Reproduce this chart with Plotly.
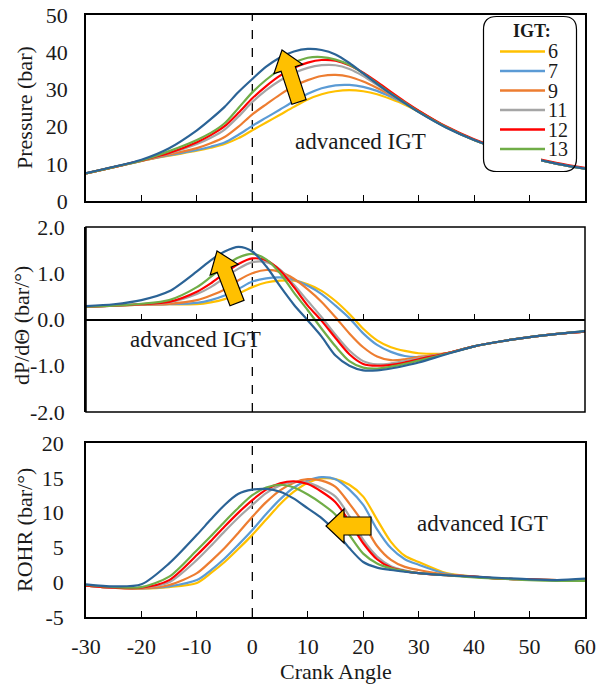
import math
import plotly.graph_objects as go

# ---------------- data ----------------
crank_angle = [-30, -25, -20, -15, -10, -7.5, -5, -2.5, 0, 2.5, 5, 7.5, 10, 12.5, 15,
               17.5, 20, 22.5, 25, 27.5, 30, 35, 40, 45, 50, 55, 60]

igt_labels = ["6", "7", "9", "11", "12", "13", "15"]
igt_colors = ["#FFC000", "#5B9BD5", "#ED7D31", "#A5A5A5", "#FF0000", "#70AD47", "#2B6396"]
legend_labels = ["6", "7", "9", "11", "12", "13"]

# Pressure (bar)
p_6 = [7.4, 9.1, 10.8, 12.2, 13.5, 14.3, 15.3, 16.9, 19.0, 21.1, 23.2, 25.3, 27.3, 28.7, 29.5,
       29.8, 29.5, 28.7, 27.4, 25.9, 24.0, 19.8, 16.4, 13.8, 11.7, 10.0, 8.7]
p_7 = [7.4, 9.1, 10.8, 12.3, 13.7, 14.6, 15.7, 17.8, 20.2, 22.4, 24.6, 26.8, 28.8, 30.3, 31.1,
       31.2, 30.7, 29.6, 28.0, 26.2, 24.2, 19.8, 16.4, 13.8, 11.7, 10.0, 8.7]
p_9 = [7.4, 9.1, 10.8, 12.5, 14.2, 15.5, 17.2, 20.0, 23.3, 26.0, 28.6, 30.9, 32.5, 33.6, 33.9,
       33.4, 32.1, 30.4, 28.5, 26.4, 24.2, 19.8, 16.4, 13.8, 11.7, 10.0, 8.7]
p_11 = [7.4, 9.1, 10.9, 12.8, 15.3, 17.0, 19.2, 22.7, 26.6, 29.8, 32.4, 34.4, 35.8, 36.5, 36.5,
        35.5, 33.6, 31.2, 28.7, 26.3, 24.0, 19.8, 16.4, 13.8, 11.7, 10.0, 8.7]
p_12 = [7.4, 9.1, 10.9, 12.9, 15.8, 17.7, 20.1, 23.7, 27.6, 30.9, 33.7, 35.8, 37.2, 37.9, 37.7,
        36.5, 34.5, 32.0, 29.3, 26.7, 24.3, 20.0, 16.6, 14.0, 11.9, 10.2, 8.9]
p_13 = [7.4, 9.1, 10.9, 13.4, 16.4, 18.3, 20.9, 25.0, 29.2, 32.6, 35.3, 37.2, 38.5, 38.7, 38.0,
        36.6, 34.3, 31.6, 28.9, 26.4, 24.0, 19.8, 16.4, 13.8, 11.7, 10.0, 8.7]
p_15 = [7.5, 9.2, 11.1, 14.2, 19.0, 22.0, 25.3, 29.3, 32.8, 36.1, 38.6, 40.2, 40.9, 40.6, 39.4,
        37.1, 34.3, 31.5, 28.8, 26.3, 23.9, 19.7, 16.4, 13.8, 11.7, 10.0, 8.7]

# dP/dTheta (bar/deg)
dp_6 = [0.28, 0.30, 0.32, 0.33, 0.33, 0.37, 0.44, 0.56, 0.70, 0.80, 0.84, 0.84, 0.76, 0.62, 0.40,
        0.12, -0.20, -0.45, -0.60, -0.68, -0.73, -0.73, -0.58, -0.47, -0.38, -0.31, -0.26]
dp_7 = [0.28, 0.30, 0.32, 0.33, 0.36, 0.42, 0.52, 0.66, 0.82, 0.89, 0.91, 0.86, 0.73, 0.55, 0.30,
        0.03, -0.30, -0.55, -0.70, -0.79, -0.81, -0.73, -0.58, -0.47, -0.38, -0.31, -0.26]
dp_9 = [0.28, 0.30, 0.32, 0.34, 0.42, 0.52, 0.65, 0.85, 1.00, 1.07, 1.03, 0.88, 0.65, 0.38, 0.05,
        -0.30, -0.60, -0.80, -0.88, -0.86, -0.81, -0.73, -0.58, -0.47, -0.38, -0.31, -0.26]
dp_11 = [0.28, 0.30, 0.33, 0.37, 0.55, 0.70, 0.90, 1.10, 1.24, 1.24, 1.08, 0.75, 0.40, 0.05, -0.33,
         -0.67, -0.90, -0.97, -0.95, -0.90, -0.84, -0.73, -0.58, -0.47, -0.38, -0.31, -0.26]
dp_12 = [0.28, 0.30, 0.33, 0.38, 0.60, 0.78, 1.00, 1.20, 1.32, 1.28, 1.06, 0.70, 0.30, -0.03, -0.40,
         -0.75, -0.96, -1.00, -0.98, -0.93, -0.86, -0.73, -0.58, -0.47, -0.38, -0.31, -0.26]
dp_13 = [0.28, 0.30, 0.34, 0.42, 0.70, 0.92, 1.15, 1.34, 1.42, 1.30, 1.00, 0.58, 0.20, -0.20, -0.58,
         -0.90, -1.04, -1.06, -1.02, -0.96, -0.89, -0.74, -0.58, -0.47, -0.38, -0.31, -0.25]
dp_15 = [0.29, 0.33, 0.42, 0.61, 1.04, 1.28, 1.47, 1.57, 1.47, 1.15, 0.72, 0.32, -0.02, -0.37, -0.78,
         -1.00, -1.10, -1.10, -1.06, -1.00, -0.93, -0.75, -0.58, -0.47, -0.38, -0.31, -0.25]

# ROHR (bar/deg)
rohr_6 = [-0.5, -0.8, -0.9, -0.7, -0.1, 1.3, 2.9, 4.8, 6.8, 9.0, 11.2, 13.0, 14.3, 14.9, 14.8,
          14.0, 12.3, 9.0, 5.8, 3.8, 2.9, 1.3, 0.8, 0.5, 0.4, 0.3, 0.2]
rohr_7 = [-0.5, -0.8, -0.9, -0.6, 0.3, 1.7, 3.4, 5.4, 7.5, 9.8, 11.9, 13.6, 14.6, 15.1, 14.8,
          13.3, 11.1, 7.6, 4.9, 3.3, 2.5, 1.2, 0.8, 0.5, 0.4, 0.3, 0.2]
rohr_9 = [-0.5, -0.8, -0.9, -0.4, 1.3, 3.0, 4.9, 7.1, 9.4, 11.5, 13.2, 14.3, 14.8, 14.6, 13.7,
          11.3, 8.5, 5.2, 3.2, 2.2, 1.75, 1.1, 0.8, 0.5, 0.4, 0.3, 0.2]
rohr_11 = [-0.5, -0.8, -0.8, 0.0, 3.2, 5.2, 7.3, 9.3, 11.1, 12.8, 13.9, 14.4, 14.3, 13.5, 12.3,
           9.5, 6.1, 3.7, 2.3, 1.7, 1.3, 1.0, 0.8, 0.5, 0.4, 0.3, 0.2]
rohr_12 = [-0.5, -0.8, -0.8, 0.3, 3.9, 5.9, 8.0, 10.0, 11.8, 13.3, 14.2, 14.5, 14.1, 13.0, 11.5,
           8.7, 5.6, 3.3, 2.1, 1.6, 1.3, 1.0, 0.8, 0.5, 0.4, 0.3, 0.2]
rohr_13 = [-0.4, -0.7, -0.7, 0.8, 4.6, 6.6, 8.7, 10.7, 12.5, 13.6, 14.0, 13.6, 12.6, 11.3, 9.7,
           6.8, 4.1, 2.7, 2.0, 1.6, 1.3, 1.0, 0.7, 0.5, 0.3, 0.2, 0.2]
rohr_15 = [-0.3, -0.6, -0.3, 2.7, 6.8, 9.0, 11.1, 12.7, 13.3, 13.4, 13.0, 12.0, 10.6, 9.2, 7.3,
           4.9, 2.9, 2.1, 1.75, 1.5, 1.3, 1.0, 0.8, 0.6, 0.4, 0.3, 0.5]

pressure = [p_6, p_7, p_9, p_11, p_12, p_13, p_15]
dpdtheta = [dp_6, dp_7, dp_9, dp_11, dp_12, dp_13, dp_15]
rohr = [rohr_6, rohr_7, rohr_9, rohr_11, rohr_12, rohr_13, rohr_15]

x_ticks = [-30, -20, -10, 0, 10, 20, 30, 40, 50, 60]
x_ticktext = ["-30", "-20", "-10", "0", "10", "20", "30", "40", "50", "60"]
p_ticks = [0, 10, 20, 30, 40, 50]
p_ticktext = ["0", "10", "20", "30", "40", "50"]
dp_ticks = [-2, -1, 0, 1, 2]
dp_ticktext = ["-2.0", "-1.0", "0.0", "1.0", "2.0"]
r_ticks = [-5, 0, 5, 10, 15, 20]
r_ticktext = ["-5", "0", "5", "10", "15", "20"]

# ---------------- layout geometry (pixels) ----------------
W, H = 599, 686
ML, MR, MT, MB = 86, 14, 15, 69
PW, PH = W - ML - MR, H - MT - MB


def pxx(px):
    return (px - ML) / PW


def pxy(py):
    return (H - MB - py) / PH


dom_top = [pxy(201), 1.0]
dom_mid = [pxy(412), pxy(227)]
dom_bot = [0.0, pxy(443)]

FONT = "Liberation Serif, Times New Roman, serif"
TXT = "#1a1a1a"
NOTICK = "rgba(0,0,0,0)"
TICK_SIZE = 22

fig = go.Figure()
panels = [("x", "y", pressure), ("x2", "y2", dpdtheta), ("x3", "y3", rohr)]
for xa, ya, series in panels:
    for lab, col, vals in zip(igt_labels, igt_colors, series):
        fig.add_trace(go.Scatter(
            x=crank_angle, y=vals, mode="lines", name=lab, xaxis=xa, yaxis=ya,
            line=dict(color=col, width=2.2, shape="spline", smoothing=0.8),
            showlegend=False, hoverinfo="skip"))

axis_common = dict(showgrid=False, zeroline=False, linecolor="black", linewidth=1.5,
                   automargin=False,
                   tickfont=dict(family=FONT, size=TICK_SIZE, color=TXT), fixedrange=True)

fig.update_layout(
    width=W, height=H, margin=dict(l=ML, r=MR, t=MT, b=MB, autoexpand=False),
    font=dict(family=FONT),
    plot_bgcolor="white", paper_bgcolor="white", showlegend=False,
    xaxis=dict(domain=[0, 1], anchor="y", range=[-30, 60], tickvals=x_ticks,
               showticklabels=False, ticks="inside", ticklen=6, tickcolor="black",
               showline=True, mirror=True, **axis_common),
    yaxis=dict(domain=dom_top, anchor="x", range=[0, 50], tickvals=p_ticks, ticktext=p_ticktext,
               ticks="outside", ticklen=12, tickcolor=NOTICK, showline=True, mirror=True,
               **axis_common),
    xaxis2=dict(domain=[0, 1], anchor="free", position=(dom_mid[0] + dom_mid[1]) / 2,
                range=[-30, 60], tickvals=x_ticks, showticklabels=False, ticks="inside",
                ticklen=5, tickcolor="black", showline=True, **axis_common),
    yaxis2=dict(domain=dom_mid, anchor="x2", range=[-2, 2], tickvals=dp_ticks, ticktext=dp_ticktext,
                ticks="outside", ticklen=15, tickcolor=NOTICK, showline=True, **axis_common),
    xaxis3=dict(domain=[0, 1], anchor="y3", range=[-30, 60], tickvals=x_ticks, ticktext=x_ticktext,
                ticks="inside", ticklen=6, tickcolor="black", showline=True, mirror=True,
                ticklabelstandoff=9, **axis_common),
    yaxis3=dict(domain=dom_bot, anchor="x3", range=[-5, 20], tickvals=r_ticks, ticktext=r_ticktext,
                ticks="outside", ticklen=16, tickcolor=NOTICK, showline=True, mirror=True,
                **axis_common),
)

shapes = []
# frame for the middle panel
shapes.append(dict(type="rect", xref="x2 domain", yref="y2 domain", x0=0, x1=1, y0=0, y1=1,
                   line=dict(color="black", width=1.5), layer="above"))
# dashed TDC lines
for xa, ya in [("x", "y"), ("x2", "y2"), ("x3", "y3")]:
    shapes.append(dict(type="line", xref=xa, yref=ya + " domain", x0=0, x1=0, y0=0, y1=1,
                       line=dict(color="black", width=1.3, dash="dash"), layer="below"))


def block_arrow(tail, tip, shaft_w, head_w, head_len):
    dx, dy = tip[0] - tail[0], tip[1] - tail[1]
    L = math.hypot(dx, dy)
    ux, uy = dx / L, dy / L
    nx, ny = -uy, ux
    bx, by = tip[0] - ux * head_len, tip[1] - uy * head_len
    pts = [
        (tail[0] + nx * shaft_w / 2, tail[1] + ny * shaft_w / 2),
        (bx + nx * shaft_w / 2, by + ny * shaft_w / 2),
        (bx + nx * head_w / 2, by + ny * head_w / 2),
        tip,
        (bx - nx * head_w / 2, by - ny * head_w / 2),
        (bx - nx * shaft_w / 2, by - ny * shaft_w / 2),
        (tail[0] - nx * shaft_w / 2, tail[1] - ny * shaft_w / 2),
    ]
    path = "M " + " L ".join(f"{pxx(p[0]):.5f},{pxy(p[1]):.5f}" for p in pts) + " Z"
    return dict(type="path", xref="paper", yref="paper", path=path, fillcolor="#FFC000",
                line=dict(color="black", width=1.2), layer="above")


shapes.append(block_arrow((299, 102), (282, 50), 15, 30, 20))
shapes.append(block_arrow((237, 303), (217, 251), 15, 30, 20))
shapes.append(block_arrow((371, 526), (326, 526), 18, 34, 18))

# custom legend
shapes.append(dict(type="rect", xref="paper", yref="paper", x0=pxx(484), x1=pxx(541),
                   y0=pxy(171), y1=pxy(17), fillcolor="white", line=dict(width=0), layer="above"))
r = 13
lx0, lx1, ly0, ly1 = 483.5, 576.5, 16.5, 171.5
rounded = (f"M {pxx(lx0 + r)},{pxy(ly0)} L {pxx(lx1 - r)},{pxy(ly0)} "
           f"Q {pxx(lx1)},{pxy(ly0)} {pxx(lx1)},{pxy(ly0 + r)} "
           f"L {pxx(lx1)},{pxy(ly1 - r)} Q {pxx(lx1)},{pxy(ly1)} {pxx(lx1 - r)},{pxy(ly1)} "
           f"L {pxx(lx0 + r)},{pxy(ly1)} Q {pxx(lx0)},{pxy(ly1)} {pxx(lx0)},{pxy(ly1 - r)} "
           f"L {pxx(lx0)},{pxy(ly0 + r)} Q {pxx(lx0)},{pxy(ly0)} {pxx(lx0 + r)},{pxy(ly0)} Z")
shapes.append(dict(type="path", xref="paper", yref="paper", path=rounded,
                   line=dict(color="black", width=1.2), fillcolor="rgba(0,0,0,0)", layer="above"))

annotations = []
annotations.append(dict(xref="paper", yref="paper", x=pxx(532), y=pxy(31), text="<b>IGT:</b>",
                        xanchor="center", yanchor="middle", showarrow=False,
                        font=dict(family=FONT, size=18, color=TXT)))
for i, (lab, col) in enumerate(zip(legend_labels, igt_colors)):
    yy = 51.5 + i * 19.5
    shapes.append(dict(type="line", xref="paper", yref="paper", x0=pxx(500), x1=pxx(545),
                       y0=pxy(yy), y1=pxy(yy), line=dict(color=col, width=2.5), layer="above"))
    annotations.append(dict(xref="paper", yref="paper", x=pxx(546), y=pxy(yy), text=lab,
                            xanchor="left", yanchor="middle", showarrow=False,
                            font=dict(family=FONT, size=20, color=TXT)))

# "advanced IGT" labels
for xa, ya, xv, yv in [("x", "y", 19.5, 16.0), ("x2", "y2", -10.3, -0.43), ("x3", "y3", 41.5, 8.5)]:
    annotations.append(dict(xref=xa, yref=ya, x=xv, y=yv, text="advanced IGT", showarrow=False,
                            xanchor="center", yanchor="middle",
                            font=dict(family=FONT, size=23, color=TXT)))

# axis titles
for text, px, py in [("Pressure (bar)", 25, 108), ("dP/dΘ (bar/°)", 21, 326),
                     ("ROHR (bar/°)", 24, 530)]:
    annotations.append(dict(xref="paper", yref="paper", x=pxx(px), y=pxy(py), text=text,
                            textangle=-90, showarrow=False, xanchor="center", yanchor="middle",
                            font=dict(family=FONT, size=22, color=TXT)))
annotations.append(dict(xref="paper", yref="paper", x=pxx(335.5), y=pxy(671), text="Crank Angle",
                        xanchor="center", yanchor="middle", showarrow=False,
                        font=dict(family=FONT, size=22, color=TXT)))

fig.update_layout(shapes=shapes, annotations=annotations)
fig.write_html("out.html", config={"displayModeBar": False},
               post_script="document.body.style.margin='0px';")
